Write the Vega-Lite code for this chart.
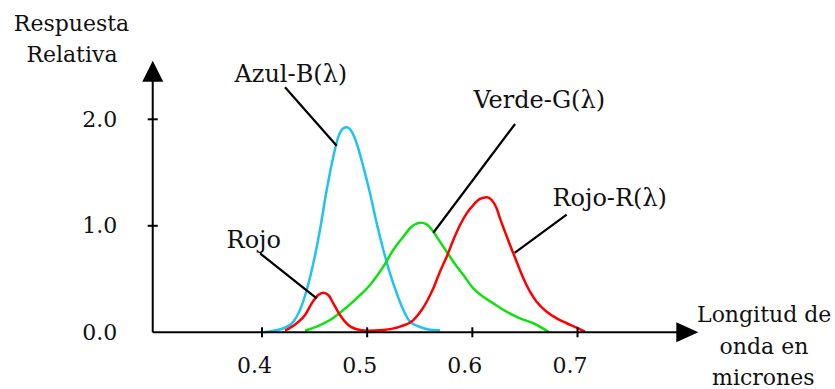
{
  "$schema": "https://vega.github.io/schema/vega-lite/v6.json",
  "width": 835,
  "height": 389,
  "autosize": {"type": "none"},
  "padding": 0,
  "background": "white",
  "config": {"view": {"stroke": null}, "font": "DejaVu Serif"},
  "datasets": {
    "curves": [
      {"s": "B", "x": 0.4012, "y": 0.0},
      {"s": "B", "x": 0.4203, "y": 0.038},
      {"s": "B", "x": 0.4298, "y": 0.099},
      {"s": "B", "x": 0.4361, "y": 0.209},
      {"s": "B", "x": 0.4425, "y": 0.397},
      {"s": "B", "x": 0.4488, "y": 0.648},
      {"s": "B", "x": 0.4551, "y": 0.961},
      {"s": "B", "x": 0.4615, "y": 1.336},
      {"s": "B", "x": 0.4678, "y": 1.649},
      {"s": "B", "x": 0.4726, "y": 1.837},
      {"s": "B", "x": 0.4773, "y": 1.915},
      {"s": "B", "x": 0.4805, "y": 1.925},
      {"s": "B", "x": 0.4853, "y": 1.884},
      {"s": "B", "x": 0.49, "y": 1.775},
      {"s": "B", "x": 0.4963, "y": 1.555},
      {"s": "B", "x": 0.5027, "y": 1.305},
      {"s": "B", "x": 0.5091, "y": 1.023},
      {"s": "B", "x": 0.5154, "y": 0.773},
      {"s": "B", "x": 0.5217, "y": 0.554},
      {"s": "B", "x": 0.5281, "y": 0.366},
      {"s": "B", "x": 0.5344, "y": 0.21},
      {"s": "B", "x": 0.5407, "y": 0.1},
      {"s": "B", "x": 0.5502, "y": 0.05},
      {"s": "B", "x": 0.5597, "y": 0.025},
      {"s": "B", "x": 0.5692, "y": 0.02},
      {"s": "G", "x": 0.4409, "y": 0.015},
      {"s": "G", "x": 0.452, "y": 0.053},
      {"s": "G", "x": 0.4647, "y": 0.115},
      {"s": "G", "x": 0.4773, "y": 0.209},
      {"s": "G", "x": 0.49, "y": 0.319},
      {"s": "G", "x": 0.5027, "y": 0.444},
      {"s": "G", "x": 0.5153, "y": 0.616},
      {"s": "G", "x": 0.5248, "y": 0.773},
      {"s": "G", "x": 0.5344, "y": 0.898},
      {"s": "G", "x": 0.5407, "y": 0.977},
      {"s": "G", "x": 0.5512, "y": 1.028},
      {"s": "G", "x": 0.5566, "y": 1.014},
      {"s": "G", "x": 0.5629, "y": 0.945},
      {"s": "G", "x": 0.5692, "y": 0.851},
      {"s": "G", "x": 0.5756, "y": 0.757},
      {"s": "G", "x": 0.5819, "y": 0.663},
      {"s": "G", "x": 0.5915, "y": 0.538},
      {"s": "G", "x": 0.6009, "y": 0.413},
      {"s": "G", "x": 0.6104, "y": 0.334},
      {"s": "G", "x": 0.6199, "y": 0.272},
      {"s": "G", "x": 0.6326, "y": 0.193},
      {"s": "G", "x": 0.6453, "y": 0.131},
      {"s": "G", "x": 0.658, "y": 0.085},
      {"s": "G", "x": 0.6722, "y": 0.006},
      {"s": "R", "x": 0.4219, "y": 0.015},
      {"s": "R", "x": 0.433, "y": 0.085},
      {"s": "R", "x": 0.441, "y": 0.162},
      {"s": "R", "x": 0.4473, "y": 0.272},
      {"s": "R", "x": 0.4535, "y": 0.35},
      {"s": "R", "x": 0.4583, "y": 0.372},
      {"s": "R", "x": 0.463, "y": 0.35},
      {"s": "R", "x": 0.4678, "y": 0.272},
      {"s": "R", "x": 0.4741, "y": 0.162},
      {"s": "R", "x": 0.482, "y": 0.069},
      {"s": "R", "x": 0.49, "y": 0.028},
      {"s": "R", "x": 0.4996, "y": 0.015},
      {"s": "R", "x": 0.5153, "y": 0.022},
      {"s": "R", "x": 0.5312, "y": 0.053},
      {"s": "R", "x": 0.5439, "y": 0.115},
      {"s": "R", "x": 0.5518, "y": 0.209},
      {"s": "R", "x": 0.5566, "y": 0.287},
      {"s": "R", "x": 0.5629, "y": 0.413},
      {"s": "R", "x": 0.5692, "y": 0.569},
      {"s": "R", "x": 0.5756, "y": 0.71},
      {"s": "R", "x": 0.5819, "y": 0.867},
      {"s": "R", "x": 0.5883, "y": 1.008},
      {"s": "R", "x": 0.5946, "y": 1.117},
      {"s": "R", "x": 0.6009, "y": 1.195},
      {"s": "R", "x": 0.6073, "y": 1.252},
      {"s": "R", "x": 0.6136, "y": 1.268},
      {"s": "R", "x": 0.6184, "y": 1.242},
      {"s": "R", "x": 0.6231, "y": 1.164},
      {"s": "R", "x": 0.6263, "y": 1.07},
      {"s": "R", "x": 0.631, "y": 0.945},
      {"s": "R", "x": 0.6358, "y": 0.82},
      {"s": "R", "x": 0.6421, "y": 0.663},
      {"s": "R", "x": 0.6485, "y": 0.507},
      {"s": "R", "x": 0.6548, "y": 0.381},
      {"s": "R", "x": 0.6611, "y": 0.287},
      {"s": "R", "x": 0.6707, "y": 0.193},
      {"s": "R", "x": 0.6802, "y": 0.131},
      {"s": "R", "x": 0.6897, "y": 0.085},
      {"s": "R", "x": 0.6992, "y": 0.043},
      {"s": "R", "x": 0.7071, "y": 0.006}
    ],
    "xticks": [{"v": 0.4}, {"v": 0.5}, {"v": 0.6}, {"v": 0.7}],
    "yticks": [{"v": 1.0}, {"v": 2.0}],
    "leaders": [
      {"x": 0.4219, "y": 2.3, "x2": 0.471, "y2": 1.752},
      {"x": 0.6406, "y": 1.956, "x2": 0.5629, "y2": 0.935},
      {"x": 0.6897, "y": 1.106, "x2": 0.6402, "y2": 0.745},
      {"x": 0.3981, "y": 0.742, "x2": 0.452, "y2": 0.319}
    ],
    "titles": [
      {"t": "Respuesta", "x": 0.2189, "y": 2.832},
      {"t": "Relativa", "x": 0.2193, "y": 2.541},
      {"t": "Longitud de", "x": 0.8775, "y": 0.0995},
      {"t": "onda en", "x": 0.8773, "y": -0.2038},
      {"t": "micrones", "x": 0.8767, "y": -0.492}
    ],
    "annot": [
      {"t": "Azul-B(λ)", "x": 0.4274, "y": 2.353},
      {"t": "Verde-G(λ)", "x": 0.6636, "y": 2.103},
      {"t": "Rojo-R(λ)", "x": 0.7306, "y": 1.189},
      {"t": "Rojo", "x": 0.3922, "y": 0.789}
    ]
  },
  "layer": [
    {
      "data": {"name": "curves"},
      "mark": {"type": "line", "strokeWidth": 2.5, "interpolate": "monotone"},
      "encoding": {
        "x": {
          "field": "x", "type": "quantitative",
          "scale": {"domain": [0.15088, 0.94483], "nice": false, "zero": false},
          "axis": {
            "title": null, "values": [0.4, 0.5, 0.6, 0.7], "format": ".1f",
            "domain": false, "ticks": false, "tickSize": 0, "grid": false,
            "offset": -56.5, "labelPadding": 23, "labelOffset": -8,
            "labelFont": "DejaVu Serif", "labelFontSize": 22, "labelColor": "#111"
          }
        },
        "y": {
          "field": "y", "type": "quantitative",
          "scale": {"domain": [-0.5324, 3.1202], "nice": false, "zero": false},
          "axis": {
            "title": null, "values": [0, 1, 2], "format": ".1f",
            "domain": false, "ticks": false, "tickSize": 0, "grid": false,
            "offset": -152.7, "labelPadding": 36,
            "labelFont": "DejaVu Serif", "labelFontSize": 22, "labelColor": "#111"
          }
        },
        "color": {
          "field": "s", "type": "nominal",
          "scale": {"domain": ["B", "G", "R"], "range": ["#1EC3F0", "#10E010", "#FF0000"]},
          "legend": null
        }
      }
    },
    {
      "data": {"values": [{}]},
      "mark": {"type": "rule", "strokeWidth": 2, "color": "black"},
      "encoding": {
        "x": {"datum": 0.2961, "type": "quantitative", "axis": {"title": null}},
        "x2": {"datum": 0.8},
        "y": {"datum": 0, "type": "quantitative", "axis": {"title": null}}
      }
    },
    {
      "data": {"values": [{}]},
      "mark": {"type": "rule", "strokeWidth": 2, "color": "black"},
      "encoding": {
        "x": {"datum": 0.2961, "type": "quantitative", "axis": {"title": null}},
        "y": {"datum": 0, "type": "quantitative", "axis": {"title": null}},
        "y2": {"datum": 2.4}
      }
    },
    {
      "data": {"name": "xticks"},
      "mark": {"type": "rule", "strokeWidth": 2, "color": "black"},
      "encoding": {
        "x": {"field": "v", "type": "quantitative", "axis": {"title": null}},
        "y": {"datum": -0.047, "type": "quantitative", "axis": {"title": null}},
        "y2": {"datum": 0.047}
      }
    },
    {
      "data": {"name": "yticks"},
      "mark": {"type": "rule", "strokeWidth": 2, "color": "black"},
      "encoding": {
        "y": {"field": "v", "type": "quantitative", "axis": {"title": null}},
        "x": {"datum": 0.2913, "type": "quantitative", "axis": {"title": null}},
        "x2": {"datum": 0.3009}
      }
    },
    {
      "data": {"values": [{}]},
      "mark": {"type": "point", "filled": true, "opacity": 1, "color": "black", "size": 441, "shape": "M0,0L1,2L-1,2Z"},
      "encoding": {
        "x": {"datum": 0.2961, "type": "quantitative", "axis": {"title": null}},
        "y": {"datum": 2.55, "type": "quantitative", "axis": {"title": null}}
      }
    },
    {
      "data": {"values": [{}]},
      "mark": {"type": "point", "filled": true, "opacity": 1, "color": "black", "size": 441, "shape": "M0,0L-2.1,-0.95L-2.1,0.95Z"},
      "encoding": {
        "x": {"datum": 0.8149, "type": "quantitative", "axis": {"title": null}},
        "y": {"datum": 0, "type": "quantitative", "axis": {"title": null}}
      }
    },
    {
      "data": {"name": "leaders"},
      "mark": {"type": "rule", "strokeWidth": 2.2, "color": "black"},
      "encoding": {
        "x": {"field": "x", "type": "quantitative", "axis": {"title": null}},
        "y": {"field": "y", "type": "quantitative", "axis": {"title": null}},
        "x2": {"field": "x2"},
        "y2": {"field": "y2"}
      }
    },
    {
      "data": {"name": "titles"},
      "mark": {"type": "text", "font": "DejaVu Serif", "fontSize": 22, "align": "center", "baseline": "alphabetic", "color": "#111"},
      "encoding": {
        "x": {"field": "x", "type": "quantitative", "axis": {"title": null}},
        "y": {"field": "y", "type": "quantitative", "axis": {"title": null}},
        "text": {"field": "t"}
      }
    },
    {
      "data": {"name": "annot"},
      "mark": {"type": "text", "font": "DejaVu Serif", "fontSize": 24, "align": "center", "baseline": "alphabetic", "color": "#111"},
      "encoding": {
        "x": {"field": "x", "type": "quantitative", "axis": {"title": null}},
        "y": {"field": "y", "type": "quantitative", "axis": {"title": null}},
        "text": {"field": "t"}
      }
    }
  ]
}
